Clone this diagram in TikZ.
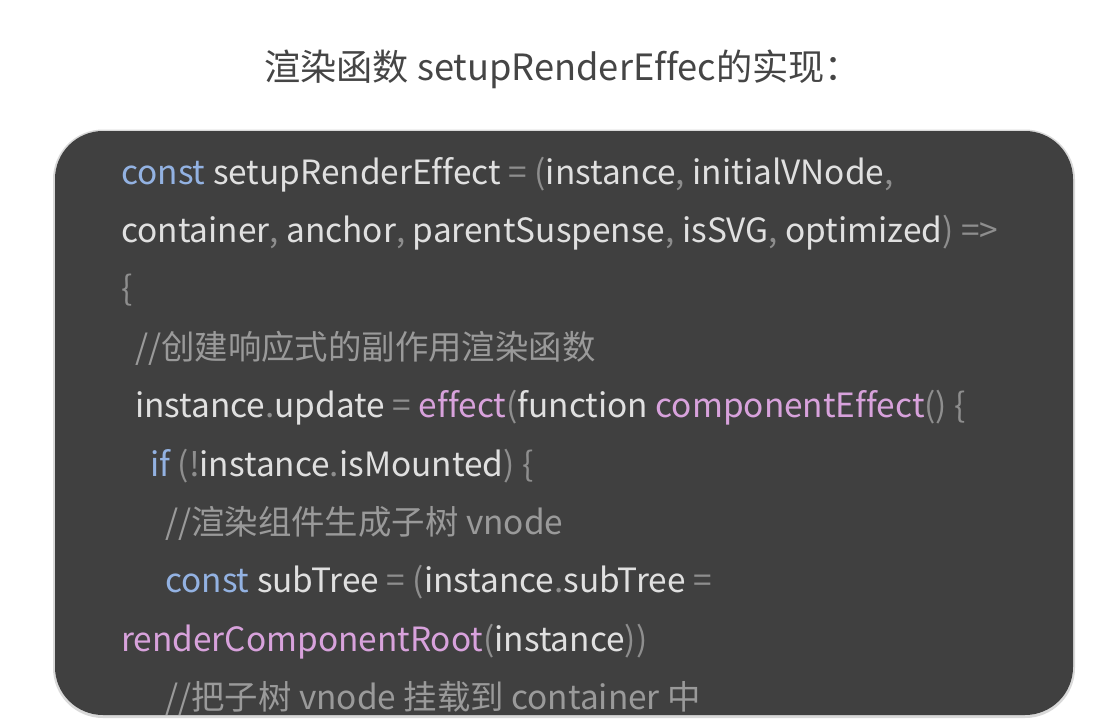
\documentclass[tikz,border=0pt]{standalone}
\usepackage{fontspec}
\setmainfont[Ligatures=NoCommon]{Noto Sans CJK SC}
\definecolor{codebg}{HTML}{404040}
\definecolor{codefg}{HTML}{E0E0E0}
\definecolor{kwblue}{HTML}{93B2E2}
\definecolor{fnpink}{HTML}{D8A2DC}
\definecolor{punct}{HTML}{8E8E8E}
\definecolor{cmtgray}{HTML}{9A9A9A}
\definecolor{titlegray}{HTML}{454545}
\newcommand\kw[1]{\textcolor{kwblue}{#1}}
\newcommand\fn[1]{\textcolor{fnpink}{#1}}
\newcommand\pu[1]{\textcolor{punct}{#1}}

\begin{document}
\begin{tikzpicture}[x=1pt,y=-1pt,
  codeline/.style={anchor=base west, inner sep=0pt, text=codefg, font=\fontsize{33.4}{33.4}\selectfont},
  comment/.style={codeline, text=cmtgray}]
\useasboundingbox (0,0) rectangle (1098,726);
\fill[white] (0,0) rectangle (1098,726);

\node[anchor=base west, inner sep=0pt, text=titlegray, font=\fontsize{36.2}{36.2}\selectfont] (title) at (264,80) {渲染函数 setupRenderEffec的实现：};

% code box with a faint shadow
\fill[black!15, rounded corners=50] (53,129.5) rectangle (1075,718);
\fill[codebg, rounded corners=48] (55,131) rectangle (1073,715);

\begin{scope}
\clip[rounded corners=48] (55,131) rectangle (1073,715);
\node[codeline] (l1) at (121,184) {\kw{const} setupRenderEffect \pu{= (}instance\pu{,} initialVNode\pu{,}};
\node[codeline] (l2) at (121,242.4) {container\pu{,} anchor\pu{,} parentSuspense\pu{,} isSVG\pu{,} optimized\pu{) =>}};
\node[codeline] (l3) at (121,300.8) {\pu{\{}};
\node[comment] (l4) at (135,359.2) {//创建响应式的副作用渲染函数};
\node[codeline] (l5) at (135,417.6) {instance\pu{.}update \pu{=} \fn{effect}\pu{(}function \fn{componentEffect}\pu{() \{}};
\node[codeline] (l6) at (150,476) {\kw{if} \pu{(!}instance\pu{.}isMounted\pu{) \{}};
\node[comment] (l7) at (165,534.4) {//渲染组件生成子树 vnode};
\node[codeline] (l8) at (165,592.8) {\kw{const} subTree \pu{= (}instance\pu{.}subTree \pu{=}};
\node[codeline] (l9) at (121,651.2) {\fn{renderComponentRoot}\pu{(}instance\pu{))}};
\node[comment] (l10) at (165,709.6) {//把子树 vnode 挂载到 container 中};
\end{scope}
\end{tikzpicture}
\end{document}
